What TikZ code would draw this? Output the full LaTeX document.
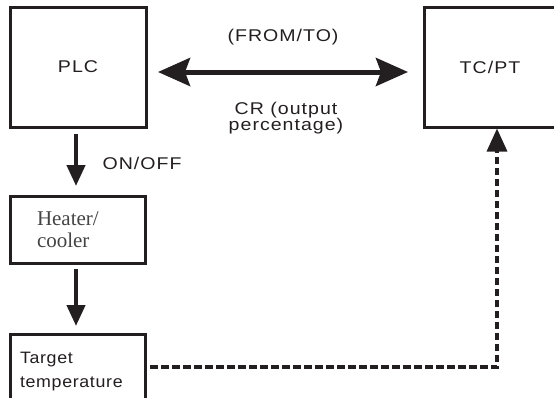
\documentclass[tikz,border=0pt]{standalone}
\usepackage{fontspec}
\setmainfont{Liberation Sans}
\newfontfamily\lsans[FakeStretch=1.15,LetterSpace=6]{Liberation Sans}
\newfontfamily\tsans[FakeStretch=1.08,LetterSpace=4]{Liberation Sans}
\newfontfamily\lserif{Liberation Serif}
\usetikzlibrary{arrows.meta}
\definecolor{ink}{HTML}{231F20}
\definecolor{gtext}{HTML}{444444}
\begin{document}
\begin{tikzpicture}[x=1pt,y=-1pt,
  box/.style={draw=ink, line width=3pt, inner sep=0pt, text=ink},
  lbl/.style={text=ink, font=\lsans\fontsize{17}{16}\selectfont, inner sep=0pt, align=center},
  solidarr/.style={draw=ink, line width=4.3pt, -{Triangle[length=21pt,width=18pt]}},
  dblarr/.style={draw=ink, line width=5pt, {Stealth[length=32pt,width=28pt,inset=5pt]}-{Stealth[length=32pt,width=28pt,inset=5pt]}},
  dasharr/.style={draw=ink, line width=3.3pt, dash pattern=on 7.5pt off 3.5pt, -{Triangle[length=23pt,width=20pt]}}
]
\clip (0,0) rectangle (554,397);
\node[box, minimum width=136pt, minimum height=120pt, font=\lsans\fontsize{17}{16}\selectfont] (plc) at (78,67) {PLC};
\node[box, minimum width=132pt, minimum height=120pt, font=\lsans\fontsize{17}{16}\selectfont] (tc) at (490,67) {TC/PT};
\node[box, minimum width=135pt, minimum height=67pt, text width=81pt, inner xsep=27pt, align=left, font=\lserif\fontsize{21}{21.5}\selectfont, text=gtext] (heater) at (77.5,229.5) {Heater/\\cooler};
\node[box, minimum width=135pt, minimum height=76pt, text width=115pt, inner xsep=10pt, align=left, font=\tsans\fontsize{16.5}{24}\selectfont] (target) at (77.5,372) {\raisebox{0pt}[0pt]{}Target\\temperature};
\node[lbl] (fromto) at (283,37.5) {(FROM/TO)};
\node[lbl] (cr) at (286,118) {CR (output\\percentage)};
\node[lbl] (onoff) at (142,163) {ON/OFF};
\coordinate (c1) at (76,0);
\coordinate (y72) at (0,72);
\coordinate (corner) at (497,367);
\draw[dblarr, shorten <=10.5pt, shorten >=14.5pt] (plc.east |- y72) -- (tc.west |- y72);
\draw[solidarr, shorten <=5.5pt, shorten >=8.5pt] (plc.south -| c1) -- (heater.north -| c1);
\draw[solidarr, shorten <=4.5pt, shorten >=6.5pt] (heater.south -| c1) -- (target.north -| c1);
\draw[dasharr, shorten <=3.5pt] (target.east |- corner) -- (corner) -- (tc.south -| corner);
\end{tikzpicture}
\end{document}
